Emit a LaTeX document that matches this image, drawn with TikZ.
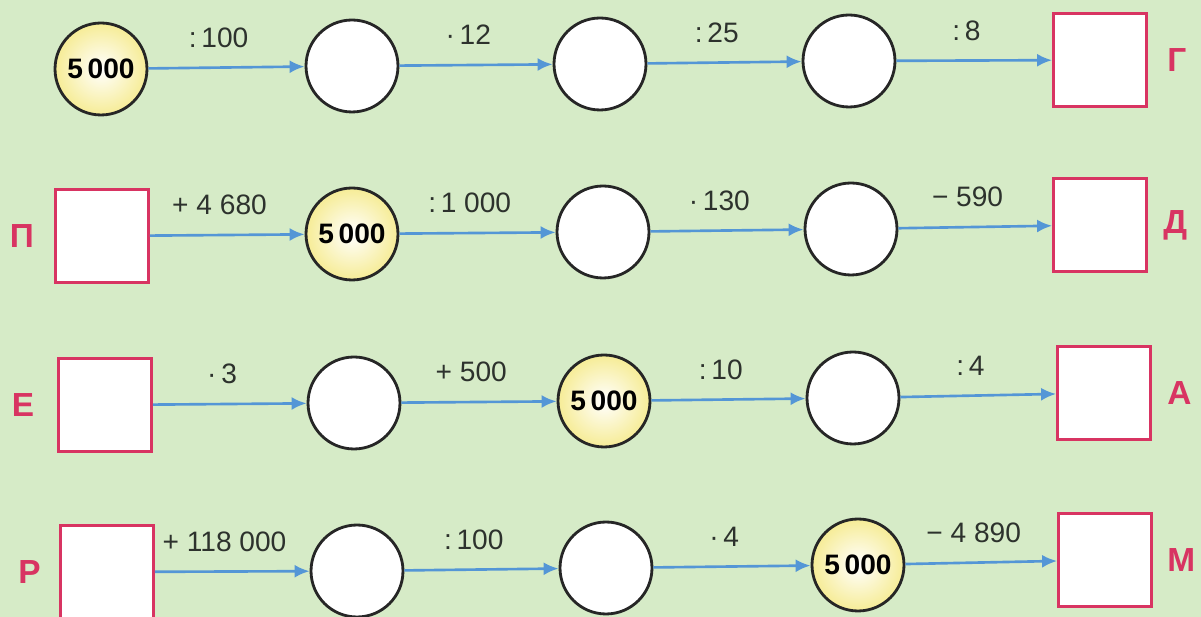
\documentclass[tikz,border=0pt]{standalone}
\usepackage{fontspec}
\setmainfont{Liberation Sans}
\usepackage{xcolor}
\usepackage{tikz}
\usetikzlibrary{positioning, arrows.meta}

\definecolor{bggreen}{RGB}{214,235,199}
\definecolor{boxred}{RGB}{216,52,98}
\definecolor{arrowblue}{RGB}{84,150,214}
\definecolor{circyellow}{RGB}{246,236,150}
\definecolor{optext}{RGB}{45,50,45}

\begin{document}
\begin{tikzpicture}[
    x=0.02cm, y=-0.02cm,
    numcirc/.style={circle, draw=black!85, line width=1.6pt, fill=white, minimum size=1.84cm, inner sep=0pt},
    startcirc/.style={numcirc, inner color=white, outer color=circyellow, font=\fontsize{16}{16}\selectfont\bfseries},
    ansbox/.style={rectangle, draw=boxred, line width=1.6pt, fill=white, minimum size=1.86cm},
    rowletter/.style={text=boxred, inner sep=0pt, font=\fontsize{19}{19}\selectfont\bfseries},
    oplabel/.style={text=optext, pos=0.45, yshift=0.6cm, font=\fontsize{16}{16}\selectfont},
    arrow/.style={-{Latex[length=0.3cm, width=0.26cm]}, arrowblue, line width=1.5pt}
]
    % Background
    \useasboundingbox (0,0) rectangle (1201,617);
    \fill [bggreen] (0,0) rectangle (1201,617);

    % Row 1: 5 000 -> ... -> G
    \node (g0) [startcirc] at (101,69) {5\,000};
    \node (g1) [numcirc] at (352,66) {};
    \node (g2) [numcirc] at (600,64) {};
    \node (g3) [numcirc] at (849,61) {};
    \node (g4) [ansbox] at (1100,60) {};
    \node (gl) [rowletter, right=0.38cm of g4] {Г};

    \draw [arrow] (g0) -- (g1) node [oplabel] {:\,100};
    \draw [arrow] (g1) -- (g2) node [oplabel] {·\,12};
    \draw [arrow] (g2) -- (g3) node [oplabel] {:\,25};
    \draw [arrow] (g3) -- (g4) node [oplabel] {:\,8};

    % Row 2: P -> 5 000 -> ... -> D
    \node (p0) [ansbox] at (102,236) {};
    \node (pl) [rowletter, left=0.4cm of p0] {П};
    \node (p1) [startcirc] at (352,234) {5\,000};
    \node (p2) [numcirc] at (603,232) {};
    \node (p3) [numcirc] at (851,229) {};
    \node (p4) [ansbox] at (1100,225) {};
    \node (dl) [rowletter, right=0.3cm of p4] {Д};

    \draw [arrow] (p0) -- (p1) node [oplabel] {+ 4 680};
    \draw [arrow] (p1) -- (p2) node [oplabel] {:\,1 000};
    \draw [arrow] (p2) -- (p3) node [oplabel] {·\,130};
    \draw [arrow] (p3) -- (p4) node [oplabel] {− 590};

    % Row 3: E -> ... -> 5 000 -> ... -> A
    \node (e0) [ansbox] at (105,405) {};
    \node (el) [rowletter, left=0.45cm of e0] {Е};
    \node (e1) [numcirc] at (354,403) {};
    \node (e2) [startcirc] at (604,401) {5\,000};
    \node (e3) [numcirc] at (853,398) {};
    \node (e4) [ansbox] at (1104,393) {};
    \node (al) [rowletter, right=0.3cm of e4] {А};

    \draw [arrow] (e0) -- (e1) node [oplabel] {·\,3};
    \draw [arrow] (e1) -- (e2) node [oplabel] {+ 500};
    \draw [arrow] (e2) -- (e3) node [oplabel] {:\,10};
    \draw [arrow] (e3) -- (e4) node [oplabel] {:\,4};

    % Row 4: R -> ... -> 5 000 -> M
    \node (r0) [ansbox] at (107,572) {};
    \node (rl) [rowletter, left=0.36cm of r0] {Р};
    \node (r1) [numcirc] at (357,571) {};
    \node (r2) [numcirc] at (606,568) {};
    \node (r3) [startcirc] at (858,565) {5\,000};
    \node (r4) [ansbox] at (1105,560) {};
    \node (ml) [rowletter, right=0.28cm of r4] {М};

    \draw [arrow] (r0) -- (r1) node [oplabel] {+ 118 000};
    \draw [arrow] (r1) -- (r2) node [oplabel] {:\,100};
    \draw [arrow] (r2) -- (r3) node [oplabel] {·\,4};
    \draw [arrow] (r3) -- (r4) node [oplabel] {− 4 890};

\end{tikzpicture}
\end{document}
